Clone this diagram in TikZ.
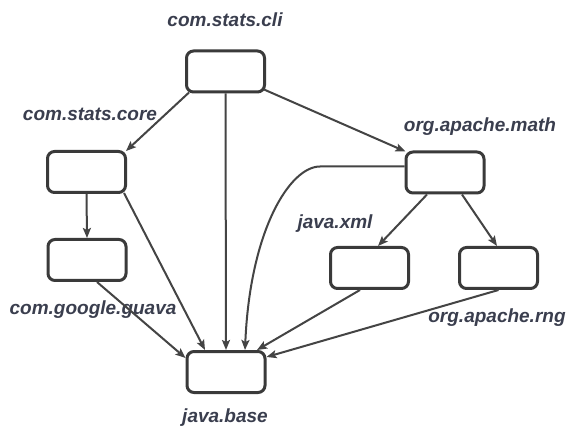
\documentclass[tikz,border=0pt]{standalone}
\usepackage{fontspec}
\setmainfont{Liberation Sans}
\usetikzlibrary{arrows.meta}
\definecolor{boxc}{HTML}{3A3A3A}
\definecolor{edgec}{HTML}{444444}
\definecolor{labc}{HTML}{3A3E4E}
\begin{document}
\begin{tikzpicture}[x=1pt,y=-1pt,
  modbox/.style={draw=boxc, line width=3pt, rounded corners=7pt, minimum width=78pt, minimum height=41pt, fill=white, inner sep=0pt},
  lab/.style={text=labc, font=\fontsize{19}{21}\selectfont\bfseries\itshape, inner sep=0pt},
  dep/.style={draw=edgec, line width=2pt, -{Stealth[length=10pt,width=8pt,inset=2pt]}}]
\useasboundingbox[fill=white] (0,0) rectangle (567,427);
\node[modbox] (cli) at (225.5,71.5) {};
\node[modbox] (core) at (86.5,172) {};
\node[modbox] (math) at (445,172.5) {};
\node[modbox] (guava) at (87,260) {};
\node[modbox] (base) at (226,372) {};
\node[modbox] (xml) at (369.5,268) {};
\node[modbox] (rng) at (498.5,268) {};
\node[lab] (lcli) at (225,20) {com.stats.cli};
\node[lab] (lcore) at (90,114) {com.stats.core};
\node[lab] (lmath) at (480,127) {org.apache.math};
\node[lab] (lxml) at (335,224) {java.xml};
\node[lab] (lguava) at (93,310) {com.google.guava};
\node[lab] (lbase) at (225,418) {java.base};
\node[lab] (lrng) at (497,318) {org.apache.rng};
\draw[dep] ([xshift=4pt,yshift=1pt]cli.south west) -- ([xshift=-1pt,yshift=-1pt]core.north east);
\draw[dep] (cli.south) -- (base.north);
\draw[dep] ([xshift=-3pt,yshift=1pt]core.south east) -- ([xshift=-21pt]base.north);
\draw[dep] (core.south) -- (guava.north);
\draw[dep] ([xshift=10pt]guava.south) -- ([yshift=14pt]base.west);
\draw[dep] ([xshift=-2pt,yshift=4pt]cli.south east) -- ([xshift=1pt,yshift=-1pt]math.north west);
\draw[dep] ([yshift=6pt]math.west) -- (320,166.5) .. controls (290,166.5) and (250,230) .. ([xshift=19pt]base.north);
\draw[dep] ([xshift=-18pt]math.south) -- ([xshift=8.5pt]xml.north);
\draw[dep] ([xshift=17pt]math.south) -- ([xshift=-1.5pt]rng.north);
\draw[dep] ([xshift=-9.5pt]xml.south) -- ([xshift=31pt]base.north);
\draw[dep] (rng.south) -- ([yshift=15pt]base.east);
\end{tikzpicture}
\end{document}
